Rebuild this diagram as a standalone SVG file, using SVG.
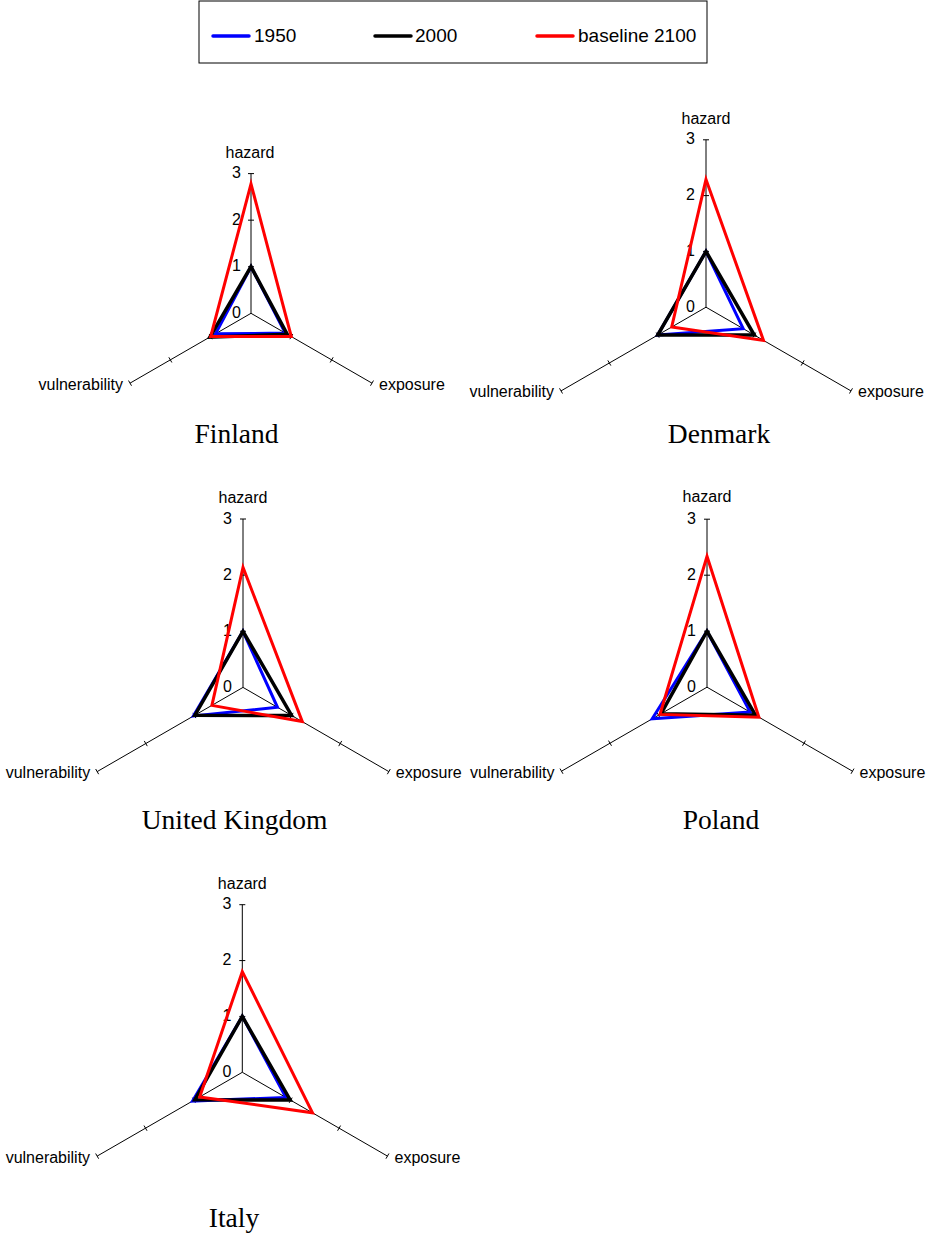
<svg xmlns="http://www.w3.org/2000/svg" width="934" height="1236" viewBox="0 0 934 1236">
<style>
.bg{fill:#fff}
.axis{fill:none;stroke:#000;stroke-width:1}
.tick{fill:none;stroke:#000;stroke-width:1}
.s1950{fill:none;stroke:#0000ff;stroke-width:3;stroke-linejoin:miter}
.s2000{fill:none;stroke:#000;stroke-width:3.5;stroke-linejoin:miter}
.s2100{fill:none;stroke:#ff0000;stroke-width:3;stroke-linejoin:miter}
.lbl{font-family:"Liberation Sans",Arial,sans-serif;font-size:16px;fill:#000}
.num{font-family:"Liberation Sans",Arial,sans-serif;font-size:16px;fill:#000;text-anchor:end}
.mid{text-anchor:middle}
.end{text-anchor:end}
.title{font-family:"Liberation Serif","Times New Roman",serif;font-size:27.5px;fill:#000;text-anchor:middle}
.leg{font-family:"Liberation Sans",Arial,sans-serif;font-size:19px;fill:#000}
.legline{stroke-width:3.5;stroke-linecap:round;fill:none}
</style>
<rect class="bg" x="0" y="0" width="934" height="1236"/>

<g id="legend">
<rect x="199" y="1" width="508" height="62" fill="#fff" stroke="#000" stroke-width="1"/>
<line class="legline" x1="213" y1="36" x2="249" y2="36" stroke="#0000ff"/>
<text class="leg" x="254" y="42">1950</text>
<line class="legline" x1="375" y1="36" x2="411" y2="36" stroke="#000"/>
<text class="leg" x="415" y="42">2000</text>
<line class="legline" x1="537" y1="36" x2="573" y2="36" stroke="#ff0000"/>
<text class="leg" x="578" y="42">baseline 2100</text>
</g>

<g id="finland" transform="translate(251,313.3)">
<path class="axis" d="M0,0V-139.7M0,0L120.98,69.85M0,0L-120.98,69.85"/>
<path class="tick" d="M-3,-46.57H3M-3,-93.14H3M-3,-139.7H3M41.83,20.69L38.83,25.89M82.16,43.97L79.16,49.17M122.48,67.25L119.48,72.45M-41.83,20.69L-38.83,25.89M-82.16,43.97L-79.16,49.17M-122.48,67.25L-119.48,72.45"/>
<text class="num" x="-10" y="4.5">0</text>
<text class="num" x="-10" y="-42.07">1</text>
<text class="num" x="-10" y="-88.64">2</text>
<text class="num" x="-10" y="-135.2">3</text>
<text class="lbl mid" x="-1" y="-155.7">hazard</text>
<text class="lbl end" x="-128" y="76.35">vulnerability</text>
<text class="lbl" x="128" y="76.35">exposure</text>
<polygon class="s1950" points="0,-46.6 34.3,19.8 -35.5,20.5"/>
<polygon class="s2000" points="0,-46.6 36.3,21 -41.1,23.75"/>
<polygon class="s2100" points="0,-129.5 40.3,23.3 -40.3,23.3"/>
<text class="title" x="-14.5" y="130">Finland</text>
</g>

<g id="denmark" transform="translate(706,307.2)">
<path class="axis" d="M0,0V-167.4M0,0L144.97,83.7M0,0L-144.97,83.7"/>
<path class="tick" d="M-3,-55.8H3M-3,-111.6H3M-3,-167.4H3M49.82,25.3L46.82,30.5M98.15,53.2L95.15,58.4M146.47,81.1L143.47,86.3M-49.82,25.3L-46.82,30.5M-98.15,53.2L-95.15,58.4M-146.47,81.1L-143.47,86.3"/>
<text class="num" x="-11" y="4.5">0</text>
<text class="num" x="-11" y="-51.3">1</text>
<text class="num" x="-11" y="-107.1">2</text>
<text class="num" x="-11" y="-162.9">3</text>
<text class="lbl mid" x="0" y="-183.4">hazard</text>
<text class="lbl end" x="-152" y="90.2">vulnerability</text>
<text class="lbl" x="152" y="90.2">exposure</text>
<polygon class="s1950" points="0,-55.8 37.2,21.5 -48.3,27.9"/>
<polygon class="s2000" points="0,-55.8 48.3,27.9 -48.3,27.9"/>
<polygon class="s2100" points="0,-127.8 57.5,33.2 -34.3,19.8"/>
<text class="title" x="13" y="136.1">Denmark</text>
</g>

<g id="united-kingdom" transform="translate(243,687.4)">
<path class="axis" d="M0,0V-168.4M0,0L145.84,84.2M0,0L-145.84,84.2"/>
<path class="tick" d="M-3,-56.13H3M-3,-112.27H3M-3,-168.4H3M50.11,25.47L47.11,30.67M98.72,53.53L95.72,58.73M147.34,81.6L144.34,86.8M-50.11,25.47L-47.11,30.67M-98.72,53.53L-95.72,58.73M-147.34,81.6L-144.34,86.8"/>
<text class="num" x="-11" y="4.5">0</text>
<text class="num" x="-11" y="-51.63">1</text>
<text class="num" x="-11" y="-107.77">2</text>
<text class="num" x="-11" y="-163.9">3</text>
<text class="lbl mid" x="0" y="-184.4">hazard</text>
<text class="lbl end" x="-152.8" y="90.7">vulnerability</text>
<text class="lbl" x="152.8" y="90.7">exposure</text>
<polygon class="s1950" points="0,-56.1 34.5,19.9 -49.6,28.6"/>
<polygon class="s2000" points="0,-56.1 48.6,28.1 -48.1,27.8"/>
<polygon class="s2100" points="0,-120.1 59.3,34.2 -31.1,18"/>
<text class="title" x="-8.5" y="142.1">United Kingdom</text>
</g>

<g id="poland" transform="translate(707,687.2)">
<path class="axis" d="M0,0V-168M0,0L145.49,84M0,0L-145.49,84"/>
<path class="tick" d="M-3,-56H3M-3,-112H3M-3,-168H3M50,25.4L47,30.6M98.49,53.4L95.49,58.6M146.99,81.4L143.99,86.6M-50,25.4L-47,30.6M-98.49,53.4L-95.49,58.6M-146.99,81.4L-143.99,86.6"/>
<text class="num" x="-11" y="4.5">0</text>
<text class="num" x="-11" y="-51.5">1</text>
<text class="num" x="-11" y="-107.5">2</text>
<text class="num" x="-11" y="-163.5">3</text>
<text class="lbl mid" x="0" y="-185">hazard</text>
<text class="lbl end" x="-152.5" y="90.5">vulnerability</text>
<text class="lbl" x="152.5" y="90.5">exposure</text>
<polygon class="s1950" points="0,-56 43.2,24.9 -54.8,31.6"/>
<polygon class="s2000" points="0,-56 48.5,28 -46.1,26.6"/>
<polygon class="s2100" points="0,-131 51.9,30 -47,27.2"/>
<text class="title" x="14" y="142.3">Poland</text>
</g>

<g id="italy" transform="translate(242.3,1072.3)">
<path class="axis" d="M0,0V-167.6M0,0L145.15,83.8M0,0L-145.15,83.8"/>
<path class="tick" d="M-3,-55.87H3M-3,-111.73H3M-3,-167.6H3M49.88,25.34L46.88,30.54M98.27,53.27L95.27,58.47M146.65,81.2L143.65,86.4M-49.88,25.34L-46.88,30.54M-98.27,53.27L-95.27,58.47M-146.65,81.2L-143.65,86.4"/>
<text class="num" x="-11" y="4.5">0</text>
<text class="num" x="-11" y="-51.37">1</text>
<text class="num" x="-11" y="-107.23">2</text>
<text class="num" x="-11" y="-163.1">3</text>
<text class="lbl mid" x="0" y="-183.6">hazard</text>
<text class="lbl end" x="-152.2" y="90.3">vulnerability</text>
<text class="lbl" x="152.2" y="90.3">exposure</text>
<polygon class="s1950" points="0,-55.9 43.5,25.1 -49.8,28.8"/>
<polygon class="s2000" points="0,-55.9 47.9,27.7 -47.4,27.4"/>
<polygon class="s2100" points="0,-100.6 70.2,40.5 -42.6,24.6"/>
<text class="title" x="-8.3" y="154.4">Italy</text>
</g>
</svg>
